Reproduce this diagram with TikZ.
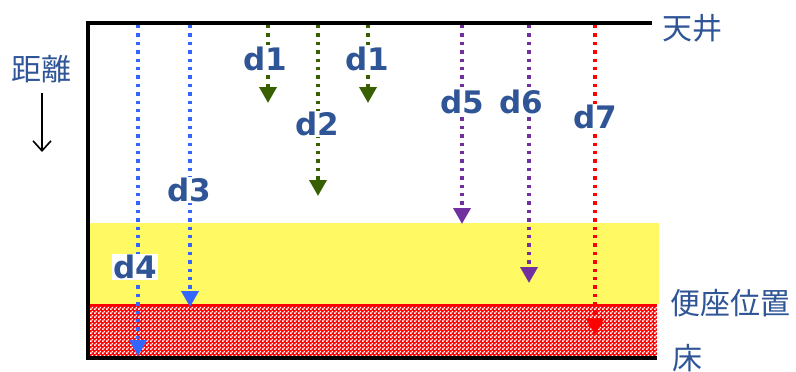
\documentclass[tikz,border=0pt]{standalone}
\usepackage{fontspec}
\setmainfont{DejaVu Sans}
\newfontfamily\jpfont{Noto Sans CJK JP}
\usetikzlibrary{arrows.meta,patterns}

\definecolor{labelblue}{RGB}{47,85,151}
\definecolor{seatyellow}{RGB}{255,250,100}
\definecolor{arrblue}{RGB}{51,102,255}
\definecolor{arrgreen}{RGB}{56,96,0}
\definecolor{arrpurple}{RGB}{112,48,160}
\definecolor{arrred}{RGB}{255,0,0}

% small checker tile for the floor zone
\pgfdeclarepatternformonly{finecheck}{\pgfpointorigin}{\pgfqpoint{3.6pt}{3.6pt}}{\pgfqpoint{3.6pt}{3.6pt}}{%
  \pgfpathrectangle{\pgfpointorigin}{\pgfqpoint{1.7pt}{1.7pt}}%
  \pgfpathrectangle{\pgfqpoint{1.8pt}{1.8pt}}{\pgfqpoint{1.7pt}{1.7pt}}%
  \pgfusepath{fill}}

\tikzset{
  frameline/.style={line width=3.2pt, black},
  distarrow/.style={line width=3.6pt, dash pattern=on 3.4pt off 5pt,
    -{Triangle[width=17pt,length=16pt]}},
  dlabel/.style={font=\bfseries\fontsize{31}{33}\selectfont, text=labelblue,
    fill=white, inner sep=1.5pt},
  jplabel/.style={font=\jpfont\fontsize{30}{32}\selectfont, text=labelblue, inner sep=0pt},
}

\begin{document}
\begin{tikzpicture}[x=1pt,y=-1pt]
  \useasboundingbox (0,0) rectangle (796,372);

  % seat zone and floor zone
  \fill[seatyellow] (88,223) rectangle (659,304);
  \fill[arrred] (88,304) rectangle (657,358);
  \fill[pattern=finecheck, pattern color=white] (88,306) rectangle (657,358);
  \draw[arrred, line width=2pt, dash pattern=on 8pt off 2.5pt] (88,305) -- (657,305);

  % ceiling, wall and floor lines
  \coordinate (ceilL) at (88,23);
  \coordinate (ceilR) at (652,23);
  \coordinate (floorL) at (88,358);
  \coordinate (floorR) at (657,358);
  \draw[frameline] (ceilR) -- (ceilL) -- (floorL) -- (floorR);

  % start and end points of the distances
  \coordinate (s4) at (138,25);  \coordinate (e4) at (138,356);
  \coordinate (s3) at (190,25);  \coordinate (e3) at (190,307);
  \coordinate (s1a) at (268,25); \coordinate (e1a) at (268,103);
  \coordinate (s2) at (318,25);  \coordinate (e2) at (318,196);
  \coordinate (s1b) at (368,25); \coordinate (e1b) at (368,103);
  \coordinate (s5) at (462,25);  \coordinate (e5) at (462,224);
  \coordinate (s6) at (529,25);  \coordinate (e6) at (529,283);
  \coordinate (s7) at (595,25);  \coordinate (e7) at (595,335);

  \draw[distarrow, arrblue] (s4) -- (e4);
  \draw[distarrow, arrblue] (s3) -- (e3);
  \draw[distarrow, arrgreen] (s1a) -- (e1a);
  \draw[distarrow, arrgreen] (s2) -- (e2);
  \draw[distarrow, arrgreen] (s1b) -- (e1b);
  \draw[distarrow, arrpurple] (s5) -- (e5);
  \draw[distarrow, arrpurple] (s6) -- (e6);
  \draw[distarrow, arrred] (s7) -- (e7);

  % distance labels
  \node[dlabel] (l4) at (135,267) {d4};
  \node[dlabel] (l3) at (189,190) {d3};
  \node[dlabel] (l1a) at (265,59) {d1};
  \node[dlabel] (l2) at (317,124) {d2};
  \node[dlabel] (l1b) at (367,59) {d1};
  \node[dlabel] (l5) at (462,102) {d5};
  \node[dlabel] (l6) at (521,102) {d6};
  \node[dlabel] (l7) at (595,117) {d7};

  % level names
  \node[jplabel] (ceil) at (692,28) {天井};
  \node[jplabel] (seat) at (730,303) {便座位置};
  \node[jplabel] (floor) at (687,358) {床};

  % distance direction
  \node[jplabel] (dist) at (42,69) {距離};
  \coordinate (dirS) at (42,93);
  \coordinate (dirE) at (42,152);
  \draw[line width=1.6pt, -{Straight Barb[length=10pt,width=18pt,line width=1.6pt]}] (dirS) -- (dirE);
\end{tikzpicture}
\end{document}
